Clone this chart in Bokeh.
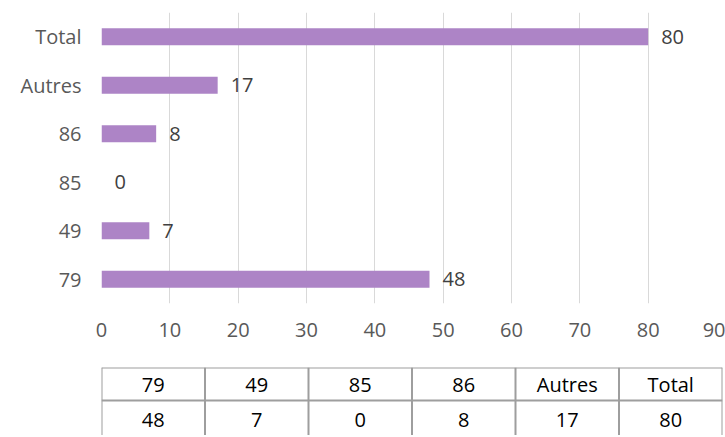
from bokeh.plotting import figure
from bokeh.layouts import column
from bokeh.models import Range1d, FactorRange, FixedTicker, ColumnDataSource
from bokeh.core.properties import value
from bokeh.embed import file_html
from bokeh.resources import INLINE

categories = ["79", "49", "85", "86", "Autres", "Total"]
values = [48, 7, 0, 8, 17, 80]
x_ticks = [0, 10, 20, 30, 40, 50, 60, 70, 80, 90]

FONT = "Open Sans"
FS = "20px"
BAR = "#ad84c6"

src = ColumnDataSource(dict(cat=categories, val=values, lab=[str(v) for v in values]))

p = figure(frame_width=615, frame_height=291, output_backend="svg", toolbar_location=None,
           x_range=Range1d(0, 90), y_range=FactorRange(*categories, range_padding=0),
           min_border_left=101, min_border_right=9, min_border_top=12, min_border_bottom=42)
p.outline_line_color = None
p.background_fill_color = "white"
p.border_fill_color = "white"
p.hbar(y="cat", right="val", left=0, height=0.35, fill_color=BAR, line_color=None, source=src)
p.text(x="val", y="cat", text="lab", source=src, x_offset=13, text_baseline="middle",
       text_align="left", text_font=value(FONT), text_font_size=FS, text_color="#404040")

p.xaxis.ticker = FixedTicker(ticks=x_ticks)
p.xgrid.ticker = FixedTicker(ticks=x_ticks)
p.xgrid.grid_line_color = "#d9d9d9"
p.ygrid.grid_line_color = None
for ax in (p.xaxis[0], p.yaxis[0]):
    ax.axis_line_color = None
    ax.major_tick_line_color = None
    ax.minor_tick_line_color = None
    ax.major_label_text_font = FONT
    ax.major_label_text_font_size = FS
    ax.major_label_text_color = "#595959"
p.xaxis.major_label_standoff = 13
p.yaxis.major_label_standoff = 14

# data table below
ncol = len(categories)
t = figure(frame_width=621, frame_height=68, output_backend="svg", toolbar_location=None,
           x_range=Range1d(0, ncol), y_range=Range1d(0, 2),
           min_border_left=101, min_border_right=3, min_border_top=22, min_border_bottom=0)
t.outline_line_color = None
t.xaxis.visible = False
t.yaxis.visible = False
t.grid.visible = False
t.border_fill_color = "white"
idx = list(range(ncol))
xs = [i + 0.5 for i in idx]
t.text(x=xs, y=[1.5] * ncol, text=categories, text_align="center", text_baseline="middle",
       text_font=value(FONT), text_font_size=FS, text_color="#000000")
t.text(x=xs, y=[0.45] * ncol, text=[str(v) for v in values], text_align="center",
       text_baseline="middle", text_font=value(FONT), text_font_size=FS, text_color="#000000")
t.segment(x0=[0, 0], y0=[2, 1.03], x1=[ncol, ncol], y1=[2, 1.03], line_color="#9e9e9e", line_width=2)
t.segment(x0=list(range(ncol + 1)), y0=[-0.2] * (ncol + 1), x1=list(range(ncol + 1)),
          y1=[2] * (ncol + 1), line_color="#9e9e9e", line_width=2)

layout = column(p, t, spacing=0)
open("out.html", "w").write(file_html(layout, INLINE))
